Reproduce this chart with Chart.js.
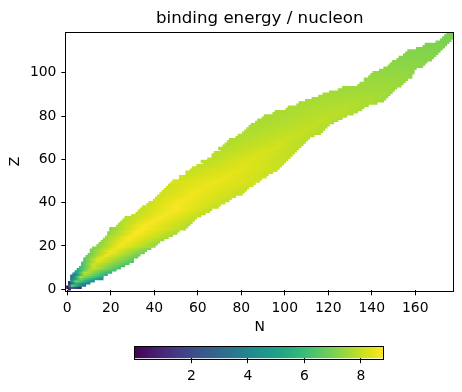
<!DOCTYPE html>
<html>
<head>
<meta charset="utf-8">
<script src="https://cdn.jsdelivr.net/npm/chart.js@4.4.0/dist/chart.umd.min.js"></script>
<style>
  body { margin: 0; background: #fff; }
  #wrap { position: relative; width: 462px; height: 392px; }
  #main { position: absolute; left: 0; top: 0; }
  #cbar { position: absolute; left: 0; top: 340px; }
</style>
</head>
<body>
<div id="wrap">
  <canvas id="main" width="462" height="340"></canvas>
  <canvas id="cbar" width="462" height="52"></canvas>
</div>
<script>
// one row per proton number Z = 0..118 (index = Z)
var nMin = [1,0,1,1,2,2,2,3,4,5,
  6,7,7,8,8,9,10,11,11,12,
  14,15,16,17,18,19,19,20,20,23,
  24,25,26,27,30,32,33,34,35,37,
  38,40,41,42,43,44,45,46,47,48,
  49,52,52,55,55,57,58,60,63,62,
  65,67,67,68,71,70,72,73,74,75,
  78,79,81,82,83,84,85,87,88,90,
  91,95,96,101,102,106,107,110,113,116,
  118,121,125,127,134,135,137,137,139,140,
  141,144,146,148,149,150,152,153,155,156,
  157,161,164,165,170,172,173,174,175];
var nMax = [1,6,8,10,12,16,16,18,20,22,
  24,26,28,30,30,32,33,35,36,38,
  40,41,42,44,46,48,50,51,54,55,
  56,57,58,59,61,63,65,66,69,70,
  72,74,75,77,80,81,82,83,85,86,
  88,89,91,92,94,96,97,98,99,100,
  101,102,103,104,105,106,107,108,109,110,
  111,113,116,117,118,119,120,122,124,126,
  128,131,133,135,136,138,142,145,146,147,
  148,149,150,151,153,154,155,156,158,158,
  159,159,160,163,164,165,167,168,169,170,
  171,172,173,174,175,176,177,177,177];
// N of the most bound isotope in each row
var nPeak = [1,2,2,4,4,6,6,8,8,10,
  12,12,12,14,14,16,18,20,20,22,
  24,25,26,28,28,30,32,32,34,35,
  36,38,40,42,44,46,48,50,50,50,
  51,52,54,56,58,58,60,61,64,66,
  69,70,73,74,77,78,81,82,82,82,
  84,85,87,89,92,94,96,98,98,100,
  103,105,107,108,110,112,114,116,118,118,
  120,124,126,126,126,128,132,134,138,140,
  142,144,146,147,150,150,152,152,154,155,
  156,157,158,159,162,163,164,166,168,169,
  170,171,172,173,175,175,177,177,176];
// binding energy per nucleon (MeV): proton-rich edge, peak, neutron-rich edge
var beLeft = [0,0,2.57,1.15,4.49,3.56,3.10,3.64,4.88,5.29,
  6.08,6.20,6.26,6.55,6.60,6.80,6.90,7.00,7.00,7.10,
  7.20,7.30,7.40,7.45,7.50,7.55,7.30,7.45,7.27,7.65,
  7.70,7.75,7.80,7.85,7.95,8.00,8.00,8.05,8.05,8.10,
  8.10,8.15,8.15,8.15,8.15,8.15,8.15,8.15,8.15,8.20,
  8.25,8.10,8.15,8.05,8.10,8.00,8.00,7.95,7.95,7.90,
  7.90,7.85,7.85,7.82,7.85,7.78,7.78,7.75,7.75,7.72,
  7.75,7.72,7.72,7.70,7.70,7.68,7.66,7.65,7.64,7.62,
  7.62,7.65,7.64,7.66,7.65,7.65,7.63,7.62,7.61,7.59,
  7.58,7.56,7.54,7.52,7.52,7.50,7.47,7.45,7.42,7.40,
  7.37,7.34,7.32,7.29,7.27,7.25,7.23,7.21,7.19,7.17,
  7.15,7.13,7.11,7.09,7.07,7.05,7.03,7.02,7.00];
var bePeak = [0,2.83,7.07,5.61,7.06,6.93,7.68,7.70,7.98,7.78,
  8.08,8.11,8.26,8.33,8.45,8.48,8.58,8.57,8.61,8.58,
  8.67,8.67,8.72,8.74,8.78,8.77,8.79,8.77,8.79,8.75,
  8.76,8.73,8.74,8.70,8.72,8.70,8.72,8.71,8.73,8.71,
  8.71,8.66,8.66,8.61,8.61,8.58,8.58,8.55,8.54,8.52,
  8.52,8.48,8.47,8.45,8.43,8.41,8.39,8.38,8.38,8.35,
  8.34,8.31,8.30,8.27,8.24,8.22,8.20,8.17,8.15,8.12,
  8.09,8.07,8.04,8.02,7.99,7.97,7.95,7.94,7.93,7.92,
  7.91,7.88,7.87,7.85,7.82,7.79,7.76,7.73,7.70,7.66,
  7.63,7.60,7.57,7.55,7.52,7.50,7.47,7.44,7.42,7.39,
  7.37,7.34,7.32,7.29,7.27,7.25,7.23,7.21,7.19,7.17,
  7.15,7.13,7.11,7.09,7.07,7.05,7.04,7.02,7.00];
var beRight = [0,0.94,3.0,3.5,4.3,4.3,5.4,5.6,5.7,6.0,
  6.2,6.2,6.3,6.4,6.7,6.7,6.8,6.9,7.0,7.1,
  7.4,7.4,7.5,7.5,7.6,7.6,7.6,7.7,7.8,7.8,
  7.8,7.8,7.9,7.9,7.9,7.9,7.95,7.95,7.95,8.0,
  8.0,8.0,8.0,8.0,8.0,8.0,8.05,8.05,8.1,8.1,
  8.15,8.1,8.1,8.1,8.05,8.05,8.0,8.0,8.0,8.0,
  7.95,7.95,7.95,7.92,7.9,7.9,7.88,7.86,7.85,7.83,
  7.82,7.8,7.78,7.77,7.76,7.75,7.74,7.73,7.72,7.72,
  7.72,7.7,7.7,7.68,7.66,7.64,7.6,7.56,7.54,7.52,
  7.5,7.48,7.46,7.43,7.41,7.39,7.37,7.35,7.33,7.31,
  7.29,7.27,7.25,7.23,7.21,7.19,7.17,7.15,7.13,7.11,
  7.10,7.08,7.06,7.05,7.04,7.03,7.02,7.01,7.0];

var xTicks = [0,20,40,60,80,100,120,140,160];
var yTicks = [0,20,40,60,80,100];
var cbTicks = [2,4,6,8];
var vMax = 8.79;

var viridis = ['#440154','#471365','#482475','#463480','#414487','#3b528b','#355f8d',
  '#2f6c8e','#2a788e','#25848e','#21918c','#1e9c89','#22a884','#2fb47c','#44bf70',
  '#5ec962','#7ad151','#9bd93c','#bddf26','#dfe318','#fde725'];

function hexRgb(h) {
  return [parseInt(h.substr(1,2),16), parseInt(h.substr(3,2),16), parseInt(h.substr(5,2),16)];
}
function colorFor(v) {
  var t = Math.max(0, Math.min(1, v / vMax)) * 20;
  var i = Math.min(19, Math.floor(t)), f = t - i;
  var a = hexRgb(viridis[i]), b = hexRgb(viridis[i + 1]);
  return 'rgb(' + Math.round(a[0] + (b[0]-a[0])*f) + ',' + Math.round(a[1] + (b[1]-a[1])*f) + ',' + Math.round(a[2] + (b[2]-a[2])*f) + ')';
}

var rows = [];
for (var z = 0; z < nMin.length; z++) {
  rows.push({ y: z, x: [nMin[z] - 0.5, nMax[z] + 0.5] });
}

function rowFill(ctx) {
  if (ctx.type !== 'data') return '#000';
  var i = ctx.dataIndex;
  var sx = ctx.chart.scales.x;
  var x0 = sx.getPixelForValue(nMin[i]), x1 = sx.getPixelForValue(nMax[i]);
  if (nMax[i] - nMin[i] < 1) return colorFor(bePeak[i]);
  var g = ctx.chart.ctx.createLinearGradient(x0, 0, x1, 0);
  var tp = (nPeak[i] - nMin[i]) / (nMax[i] - nMin[i]);
  for (var k = 0; k <= 4; k++) {
    var t = k / 4;
    g.addColorStop(t * tp, colorFor(beLeft[i] + (bePeak[i] - beLeft[i]) * t));
  }
  for (var k = 1; k <= 4; k++) {
    var t = k / 4;
    g.addColorStop(tp + (1 - tp) * t, colorFor(bePeak[i] + (beRight[i] - bePeak[i]) * t));
  }
  return g;
}

var frame = {
  id: 'frame',
  afterDraw: function (c) {
    var a = c.chartArea, g = c.ctx;
    g.save();
    g.strokeStyle = '#000';
    g.lineWidth = 1;
    g.strokeRect(Math.round(a.left) - 0.5, Math.round(a.top) - 0.5, Math.round(a.right - a.left) + 1, Math.round(a.bottom - a.top) + 1);
    g.restore();
  }
};

var fnt = { family: 'DejaVu Sans', size: 13.9 };

new Chart(document.getElementById('main'), {
  type: 'bar',
  data: {
    datasets: [{
      data: rows,
      backgroundColor: rowFill,
      borderWidth: 0,
      barThickness: 2.8
    }]
  },
  options: {
    indexAxis: 'y',
    responsive: false,
    animation: false,
    events: [],
    layout: { padding: { left: 0, right: 8.7, top: 0, bottom: 0 } },
    plugins: {
      legend: { display: false },
      tooltip: { enabled: false },
      title: {
        display: true,
        text: 'binding energy / nucleon',
        color: '#000',
        fullSize: false,
        font: { family: 'DejaVu Sans', size: 16.67, weight: 'normal' },
        padding: { top: 8.4, bottom: 4.2 }
      }
    },
    scales: {
      x: {
        type: 'linear',
        min: -0.5,
        max: 177.5,
        grid: { drawOnChartArea: false, drawTicks: true, tickLength: 4.9, color: '#000' },
        border: { display: false },
        ticks: { color: '#000', font: fnt, padding: 4.8, maxRotation: 0, autoSkip: false },
        afterBuildTicks: function (s) { s.ticks = xTicks.map(function (v) { return { value: v }; }); },
        afterFit: function (s) { s.height = 49.6; },
        title: { display: true, text: 'N', color: '#000', font: fnt, padding: { top: 0, bottom: 4 } }
      },
      y: {
        type: 'linear',
        min: -0.5,
        max: 118.5,
        offset: false,
        grid: { drawOnChartArea: false, drawTicks: true, tickLength: 4.9, color: '#000', offset: false },
        border: { display: false },
        ticks: { color: '#000', font: fnt, padding: 4.9 },
        afterBuildTicks: function (s) { s.ticks = yTicks.map(function (v) { return { value: v }; }); },
        afterFit: function (s) { s.width = 66.2; },
        title: { display: true, text: 'Z', color: '#000', font: fnt, padding: { top: 7.5, bottom: 0 } }
      }
    }
  },
  plugins: [frame]
});

function barFill(ctx) {
  if (ctx.type !== 'data') return '#000';
  var a = ctx.chart.chartArea;
  if (!a) return viridis[10];
  var g = ctx.chart.ctx.createLinearGradient(a.left, 0, a.right, 0);
  viridis.forEach(function (c, i) { g.addColorStop(i / 20, c); });
  return g;
}

new Chart(document.getElementById('cbar'), {
  type: 'bar',
  data: {
    labels: [''],
    datasets: [{ data: [[0, vMax]], backgroundColor: barFill, borderWidth: 0, barPercentage: 1, categoryPercentage: 1 }]
  },
  options: {
    indexAxis: 'y',
    responsive: false,
    animation: false,
    events: [],
    layout: { padding: { left: 135, right: 78.7, top: 6.7, bottom: 0 } },
    plugins: { legend: { display: false }, tooltip: { enabled: false } },
    scales: {
      x: {
        type: 'linear',
        min: 0,
        max: vMax,
        grid: { drawOnChartArea: false, drawTicks: true, tickLength: 4.9, color: '#000' },
        border: { display: false },
        ticks: { color: '#000', font: fnt, padding: 5.1, maxRotation: 0 },
        afterBuildTicks: function (s) { s.ticks = cbTicks.map(function (v) { return { value: v }; }); },
        afterFit: function (s) { s.height = 33.7; }
      },
      y: { display: false }
    }
  },
  plugins: [frame]
});
</script>
</body>
</html>
